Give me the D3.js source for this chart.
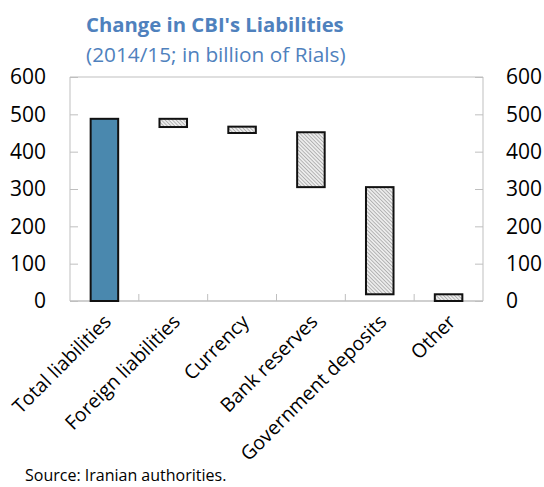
<!DOCTYPE html>
<meta charset="utf-8">
<script src="https://d3js.org/d3.v7.min.js"></script>
<style>
  body { margin: 0; background: #fff; }
  text { font-family: "Open Sans", "Noto Sans", sans-serif; }
</style>
<div id="chart"></div>
<script>

// categories and the waterfall values (base and top of each bar, billion Rials)
var categories = ["Total liabilities", "Foreign liabilities", "Currency", "Bank reserves", "Government deposits", "Other"];
var barBase = [0, 466, 450, 305, 18, 0];
var barTop  = [488, 488, 467, 452, 305, 18];
var yTicks  = [0, 100, 200, 300, 400, 500, 600];

var W = 544, H = 487;
var margin = {top: 77, right: 61, bottom: 186, left: 70},
    width = W - margin.left - margin.right,
    height = H - margin.top - margin.bottom;

var svg = d3.select("#chart").append("svg")
    .attr("width", W)
    .attr("height", H);

// fine hatch pattern for the change bars
var defs = svg.append("defs");
var pat = defs.append("pattern")
    .attr("id", "hatch")
    .attr("patternUnits", "userSpaceOnUse")
    .attr("width", 2.6).attr("height", 2.6)
    .attr("patternTransform", "rotate(-45)");
pat.append("rect").attr("width", 2.6).attr("height", 2.6).attr("fill", "#ececec");
pat.append("line").attr("x1", 0).attr("y1", 0).attr("x2", 0).attr("y2", 2.6)
    .attr("stroke", "#8a8a8a").attr("stroke-width", 1.1);

// title
svg.append("text")
    .attr("x", 86).attr("y", 32)
    .attr("fill", "#4f81bd")
    .attr("font-weight", "bold")
    .attr("font-size", 20.3)
    .text("Change in CBI's Liabilities");
svg.append("text")
    .attr("x", 86).attr("y", 62)
    .attr("fill", "#4f81bd")
    .attr("font-size", 20.8)
    .text("(2014/15; in billion of Rials)");

var g = svg.append("g")
    .attr("transform", "translate(" + margin.left + "," + margin.top + ")");

var x = d3.scaleBand()
    .domain(categories)
    .range([0, width])
    .paddingInner(0.6)
    .paddingOuter(0.3);

var y = d3.scaleLinear()
    .domain([0, 600])
    .range([height, 0]);

var axisColor = "#bfbfbf";

// left axis (ticks inside)
var left = g.append("g")
    .call(d3.axisLeft(y).tickValues(yTicks).tickSize(-8).tickPadding(24));
left.select(".domain").remove();
left.selectAll("line").attr("stroke", axisColor);
left.selectAll("text").attr("font-size", 21).attr("fill", "#000");

// right axis (ticks inside)
var right = g.append("g")
    .attr("transform", "translate(" + width + ",0)")
    .call(d3.axisRight(y).tickValues(yTicks).tickSize(-8).tickPadding(23));
right.select(".domain").remove();
right.selectAll("line").attr("stroke", axisColor);
right.selectAll("text").attr("font-size", 21).attr("fill", "#000");

// frame: left, right and top lines
g.append("line").attr("x1", 0).attr("x2", 0).attr("y1", 0).attr("y2", height).attr("stroke", axisColor);
g.append("line").attr("x1", width).attr("x2", width).attr("y1", 0).attr("y2", height).attr("stroke", axisColor);
g.append("line").attr("x1", 0).attr("x2", width).attr("y1", 0).attr("y2", 0).attr("stroke", axisColor);

// bottom axis with category separators pointing up
var step = x.step();
var sep = d3.range(1, categories.length);
g.selectAll(".sep")
  .data(sep)
  .enter().append("line")
    .attr("x1", function(d) { return d * step; })
    .attr("x2", function(d) { return d * step; })
    .attr("y1", height).attr("y2", height - 7)
    .attr("stroke", axisColor);
g.append("line").attr("x1", 0).attr("x2", width).attr("y1", height).attr("y2", height)
    .attr("stroke", axisColor).attr("stroke-width", 1.5);

// bars
g.selectAll(".bar")
  .data(categories)
  .enter().append("rect")
    .attr("x", function(d) { return x(d); })
    .attr("width", x.bandwidth())
    .attr("y", function(d, i) { return y(barTop[i]); })
    .attr("height", function(d, i) { return y(barBase[i]) - y(barTop[i]); })
    .attr("fill", function(d, i) { return i === 0 ? "#4a88ae" : "url(#hatch)"; })
    .attr("stroke", "#111")
    .attr("stroke-width", 2);

// rotated category labels
g.selectAll(".xlab")
  .data(categories)
  .enter().append("text")
    .attr("text-anchor", "end")
    .attr("font-size", 19.5)
    .attr("fill", "#000")
    .attr("transform", function(d) {
      return "translate(" + (x(d) + x.bandwidth() / 2 + 8) + "," + (height + 22) + ") rotate(-45)";
    })
    .text(function(d) { return d; });

// source note
svg.append("text")
    .attr("x", 25).attr("y", 481)
    .attr("font-size", 16)
    .attr("fill", "#000")
    .text("Source: Iranian authorities.");

</script>
